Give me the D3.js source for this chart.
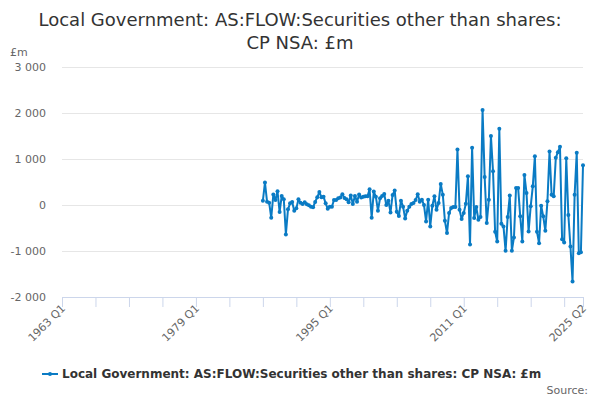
<!DOCTYPE html>
<html>
<head>
<meta charset="utf-8">
<script src="https://cdn.jsdelivr.net/npm/d3@7"></script>
<style>
  html, body { margin: 0; padding: 0; background: #fff; }
  svg { display: block; font-family: "DejaVu Sans", sans-serif; }
</style>
</head>
<body>
<svg id="chart" width="600" height="400"></svg>
<script>
// ---- Data ----
const titleLines = ["Local Government: AS:FLOW:Securities other than shares:", "CP NSA: £m"];
const seriesName = "Local Government: AS:FLOW:Securities other than shares: CP NSA: £m";
const axisStartYear = 1963, axisStartQ = 1;
const axisEndYear = 2025, axisEndQ = 2;
const dataStart = "1987 Q1";
const values = [
  95, 489, 73, 51, -277, 226, 109, 299, -153, 197, 124, -640, -95, 36, 66, -124,
  -73, 124, 51, 22, 58, 15, -7, -36, -51, 66, 168, 285, 168, 182, 36, -80,
  -36, -36, 109, 109, 146, 161, 234, 153, 124, 58, 204, 22, 197, 73, 226, 161,
  182, 190, 190, 343, -277, 292, 182, -124, 146, 197, 241, 0, 95, -161, 219, 314,
  -146, -241, 95, -36, -292, -124, -36, 22, 44, 109, 234, 73,
  116, 0, -356, 116, -465, -15, 189, -102, 44, 458, 225, -342, -611, -174, -65, -44,
  -44, 1207, -102, -305, -174, 29, 625, -858, 1243, -284, -44, -320, -262, 2065, 611, -393,
  116, 1498, 734, -582, -792, 1658, -407, -465, -996, -262, 204, -996, -705, 371, 371, -247,
  -792, 654, 262, -574, -29, 407, 1061, -582, -829, -15, -247, -560, 80, 1163, 225, 189,
  1025, 1149, 1265, -742, -814, 1018, -218, -901, -1665, 225, 1134, -1047, -1025, 865
];
const yTicks = [-2000, -1000, 0, 1000, 2000, 3000];
const xTickLabels = ["1963 Q1", "1979 Q1", "1995 Q1", "2011 Q1", "2025 Q2"];
const yUnit = "£m";
const sourceText = "Source:";

// ---- Categories ----
const quarters = [];
for (let yr = axisStartYear, q = axisStartQ; yr < axisEndYear || (yr === axisEndYear && q <= axisEndQ); ) {
  quarters.push(yr + " Q" + q);
  q++; if (q > 4) { q = 1; yr++; }
}
const startIdx = quarters.indexOf(dataStart);
const data = values.map((v, i) => ({ q: quarters[startIdx + i], v }));

// ---- Layout ----
const svg = d3.select("#chart");
const plotL = 62, plotR = 583, plotT = 67, plotB = 297;
const color = "#0a7bc4";

const x = d3.scalePoint().domain(quarters).range([plotL, plotR]);
const y = d3.scaleLinear().domain([-2000, 3000]).range([plotB, plotT]);

// Title
svg.append("text")
  .attr("x", 300).attr("y", 26)
  .attr("text-anchor", "middle")
  .attr("fill", "#333").style("font-size", "18px")
  .selectAll("tspan").data(titleLines).join("tspan")
  .attr("x", 300).attr("dy", (d, i) => i === 0 ? 0 : 23)
  .text(d => d);

// Grid lines + y labels
const yAxis = d3.axisLeft(y).tickValues(yTicks).tickSize(-(plotR - plotL))
  .tickFormat(d => d3.format(",")(d).replace(/,/g, " ").replace("−", "-"));
const gy = svg.append("g").attr("transform", `translate(${plotL},0)`).call(yAxis);
gy.select(".domain").remove();
gy.selectAll(".tick line").attr("stroke", "#e6e6e6").attr("stroke-width", 1);
gy.selectAll(".tick text").attr("x", -16).attr("fill", "#666")
  .style("font-size", "11px").style("font-family", "DejaVu Sans, sans-serif");

svg.append("text").attr("x", 10).attr("y", 56).attr("fill", "#666")
  .style("font-size", "11px").text(yUnit);

// X axis
const tickQs = quarters.filter((d, i) => i % 16 === 0);
if (tickQs[tickQs.length - 1] !== quarters[quarters.length - 1]) tickQs.push(quarters[quarters.length - 1]);
const xAxis = d3.axisBottom(x).tickValues(tickQs).tickSize(10).tickFormat("");
const gx = svg.append("g").attr("transform", `translate(0,${plotB})`).call(xAxis);
gx.select(".domain").attr("stroke", "#ccd6eb").attr("d", `M${plotL},0.5H${plotR}`);
gx.selectAll(".tick line").attr("stroke", "#ccd6eb");

svg.append("g").selectAll("text").data(xTickLabels).join("text")
  .attr("transform", d => `translate(${x(d) + 4},${plotB + 12}) rotate(-45)`)
  .attr("text-anchor", "end")
  .attr("fill", "#666").style("font-size", "11px")
  .text(d => d);

// Line
const line = d3.line().x(d => x(d.q)).y(d => y(d.v));
svg.append("path").datum(data)
  .attr("fill", "none").attr("stroke", color).attr("stroke-width", 2)
  .attr("stroke-linejoin", "round").attr("d", line);
svg.append("g").selectAll("circle").data(data).join("circle")
  .attr("cx", d => x(d.q)).attr("cy", d => y(d.v)).attr("r", 2)
  .attr("fill", color);

// Legend
const lg = svg.append("g");
lg.append("line").attr("x1", 42).attr("x2", 58).attr("y1", 374).attr("y2", 374)
  .attr("stroke", color).attr("stroke-width", 2);
lg.append("circle").attr("cx", 50).attr("cy", 374).attr("r", 2).attr("fill", color);
lg.append("text").attr("x", 62).attr("y", 378).attr("fill", "#333")
  .style("font-size", "12px").style("font-weight", "bold").text(seriesName);

// Source
svg.append("text").attr("x", 588).attr("y", 394).attr("text-anchor", "end")
  .attr("fill", "#666").style("font-size", "11px").text(sourceText);
</script>
</body>
</html>
